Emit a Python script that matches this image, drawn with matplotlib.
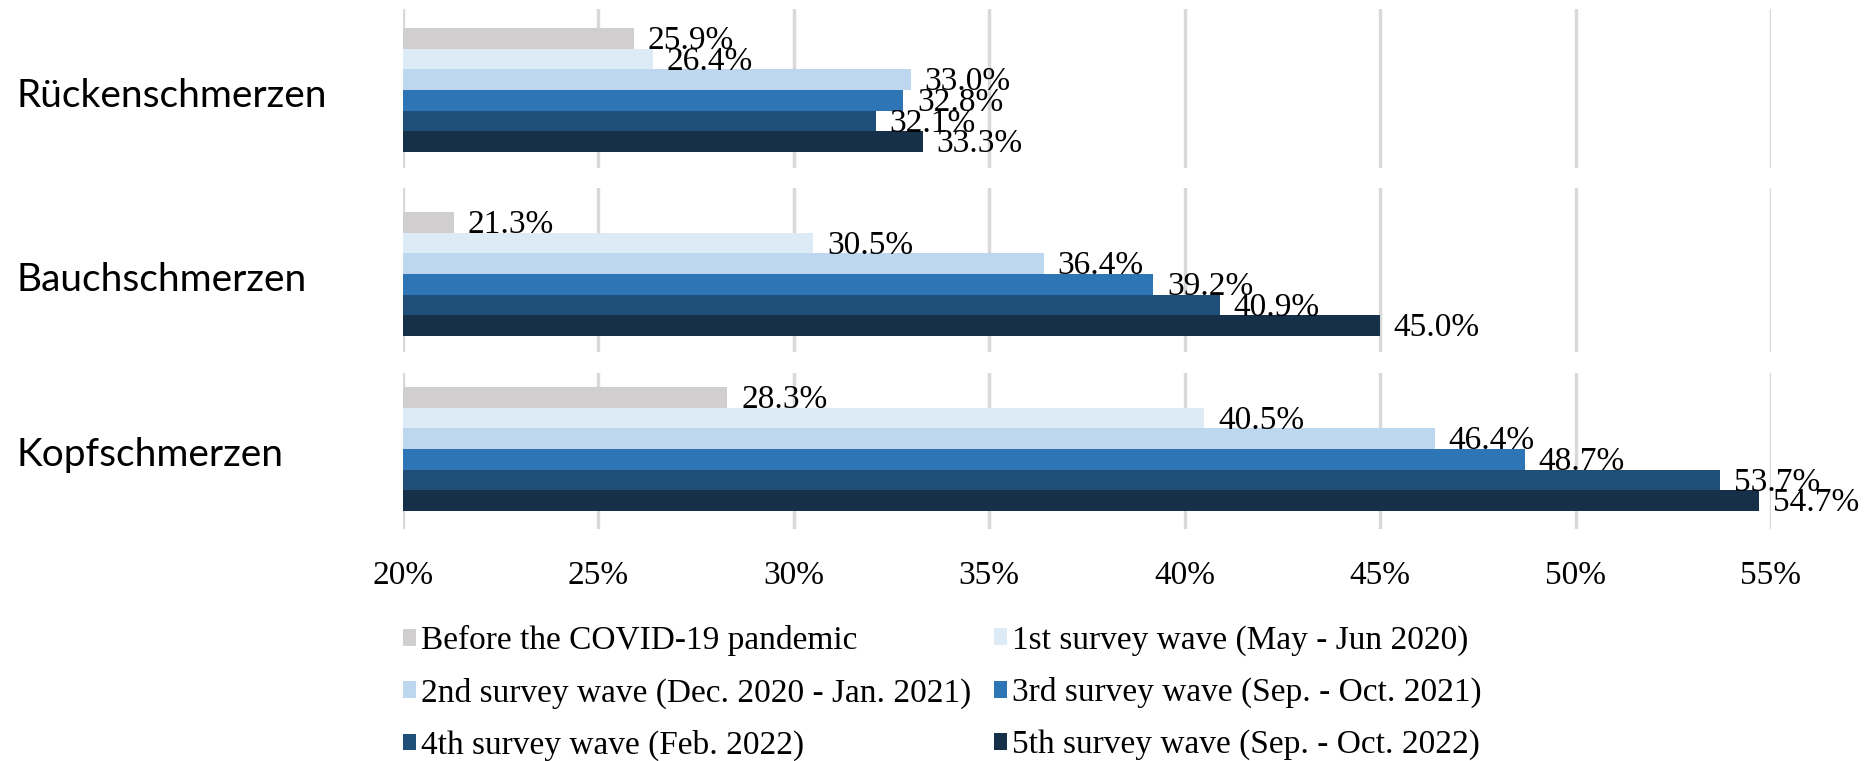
import numpy as np
import matplotlib.pyplot as plt
from matplotlib.patches import Patch

# Data
categories = ["Rückenschmerzen", "Bauchschmerzen", "Kopfschmerzen"]
series_names = [
    "Before the COVID-19 pandemic",
    "1st survey wave (May - Jun 2020)",
    "2nd survey wave (Dec. 2020 - Jan. 2021)",
    "3rd survey wave (Sep. - Oct. 2021)",
    "4th survey wave (Feb. 2022)",
    "5th survey wave (Sep. - Oct. 2022)",
]
ruecken = [25.9, 26.4, 33.0, 32.8, 32.1, 33.3]
bauch = [21.3, 30.5, 36.4, 39.2, 40.9, 45.0]
kopf = [28.3, 40.5, 46.4, 48.7, 53.7, 54.7]
values = [ruecken, bauch, kopf]
xticks = [20, 25, 30, 35, 40, 45, 50, 55]

colors = ["#D0CECE", "#DDEBF7", "#BDD7EE", "#2E75B6", "#1F4E79", "#16304A"]

W, H = 1871, 761
fig = plt.figure(figsize=(W / 100, H / 100), dpi=100)

serif = "Liberation Serif"
label_fs = 24

# panel layout in pixels: axes top, axes bottom, bars top, bars bottom
panels = [(9, 168, 28, 152), (188, 352, 212, 336), (373, 529, 387, 511)]
x_left, x_right = 403, 1771

for i, (cat, vals) in enumerate(zip(categories, values)):
    a_top, a_bot, b_top, b_bot = panels[i]
    ax = fig.add_axes([x_left / W, 1 - a_bot / H, (x_right - x_left) / W, (a_bot - a_top) / H])
    unit = (b_bot - b_top) / 6
    ax.set_ylim(5.5 + (a_bot - b_bot) / unit, -0.5 - (b_top - a_top) / unit)
    ax.set_xlim(20, 55)

    pos = np.arange(len(vals))
    ax.barh(pos, np.array(vals) - 20, left=20, height=1.0, color=colors, zorder=2)
    for p, v in zip(pos, vals):
        ax.text(v + 0.35, p + 0.12, f"{v:.1f}%", va="center", ha="left",
                fontsize=label_fs, family=serif, zorder=3, clip_on=False)

    ax.set_xticks(xticks)
    ax.grid(axis="x", color="#D9D9D9", linewidth=2.5, zorder=0)
    for s in ax.spines.values():
        s.set_visible(False)
    ax.set_yticks([])
    ax.tick_params(axis="x", length=0)
    if i < 2:
        ax.set_xticklabels([])
    else:
        ax.set_xticklabels([f"{t}%" for t in xticks], fontsize=label_fs, family=serif)
        ax.tick_params(axis="x", pad=23)

    fig.text(16 / W, 1 - ((b_top + b_bot) / 2 + 6) / H, cat, fontsize=28,
             family="Lato", va="center", ha="left")

# Legend in two columns (row-major order as in the original)
handles = [Patch(facecolor=c, edgecolor="none") for c in colors]
leg_kw = dict(frameon=False, prop={"family": serif, "size": label_fs},
              handlelength=0.4, handleheight=0.4, handletextpad=0.15,
              labelspacing=0.64, borderpad=0, borderaxespad=0, loc="upper left")
leg1 = fig.legend([handles[k] for k in (0, 2, 4)], [series_names[k] for k in (0, 2, 4)],
                  bbox_to_anchor=(403 / W, 1 - 625 / H), **leg_kw)
leg2 = fig.legend([handles[k] for k in (1, 3, 5)], [series_names[k] for k in (1, 3, 5)],
                  bbox_to_anchor=(994 / W, 1 - 625 / H), **leg_kw)

plt.savefig("out.png", dpi=100)
